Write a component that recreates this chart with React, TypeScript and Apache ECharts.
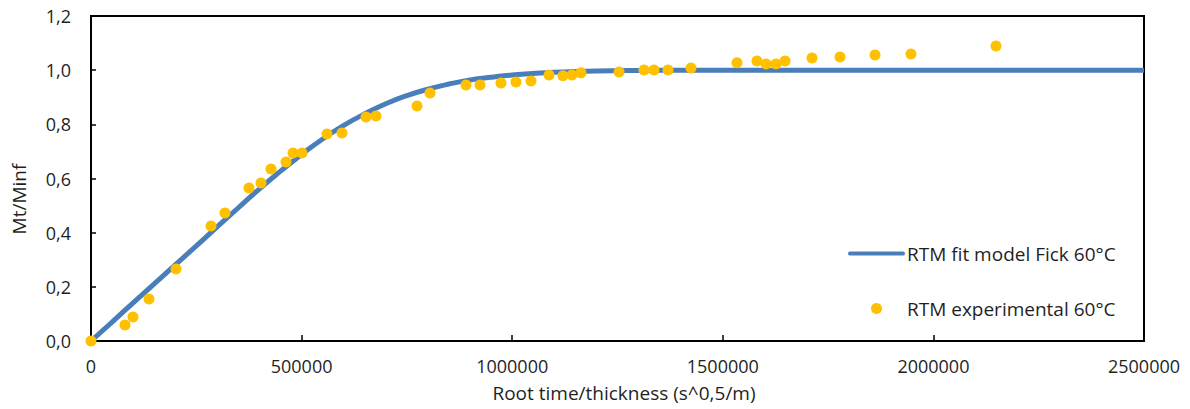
import React, { useEffect, useRef } from "react";
import * as echarts from "echarts";

// Experimental points (x: root time / thickness, y: Mt/Minf)
const expX = [0, 80700, 99700, 137700, 201800, 284900, 318100, 375100, 403600, 427400, 463000, 479600, 500900, 560300, 595900, 652900, 676600, 774000, 804900, 890300, 923600, 973400, 1009000, 1044600, 1087400, 1120600, 1142000, 1163300, 1253600, 1312900, 1336700, 1369900, 1424500, 1533700, 1581200, 1602600, 1626300, 1647700, 1711800, 1778300, 1861400, 1946800, 2148600];
const expY = [0, 0.059, 0.089, 0.155, 0.266, 0.425, 0.473, 0.565, 0.583, 0.635, 0.661, 0.694, 0.694, 0.764, 0.768, 0.827, 0.831, 0.868, 0.916, 0.945, 0.945, 0.953, 0.956, 0.96, 0.982, 0.979, 0.982, 0.99, 0.993, 1.001, 1.001, 1.001, 1.008, 1.027, 1.034, 1.023, 1.023, 1.034, 1.045, 1.049, 1.056, 1.06, 1.089];

// Fitted model curve
const fitX = [0, 50000, 100000, 150000, 200000, 250000, 300000, 350000, 400000, 450000, 500000, 550000, 600000, 650000, 700000, 750000, 800000, 850000, 900000, 950000, 1000000, 1100000, 1200000, 1300000, 1400000, 1500000, 1600000, 1800000, 2000000, 2200000, 2500000];
const fitY = [0, 0.07, 0.141, 0.211, 0.281, 0.351, 0.422, 0.492, 0.562, 0.627, 0.689, 0.746, 0.796, 0.839, 0.876, 0.906, 0.93, 0.949, 0.964, 0.974, 0.982, 0.992, 0.997, 0.999, 0.9995, 1.0, 1.0, 1.0, 1.0, 1.0, 1.0];

const fitName = "RTM fit model Fick 60°C";
const expName = "RTM experimental 60°C";
const xTitle = "Root time/thickness (s^0,5/m)";
const yTitle = "Mt/Minf";

const FONT = "'Open Sans', 'Noto Sans', sans-serif";
const TXT = "#1f1f1f";
const BLUE = "#4A7EBB";

export default function App() {
  const ref = useRef<HTMLDivElement>(null);
  useEffect(() => {
    document.body.style.margin = "0";
    if (!ref.current) return;
    const chart = echarts.init(ref.current, undefined, { renderer: "svg" });
    chart.setOption({
      animation: false,
      backgroundColor: "#ffffff",
      textStyle: { fontFamily: FONT, color: TXT },
      grid: {
        left: 91, right: 46, top: 16, bottom: 68,
        show: true, borderColor: "#000", borderWidth: 2, backgroundColor: "transparent",
      },
      xAxis: {
        type: "value", min: 0, max: 2500000, interval: 500000,
        axisLine: { show: true, onZero: false, lineStyle: { color: "#000", width: 2 } },
        axisTick: { show: true, inside: true, length: 6, lineStyle: { color: "#000", width: 1.5 } },
        axisLabel: { color: TXT, fontSize: 18, fontFamily: FONT, margin: 16, formatter: (v: number) => String(v) },
        splitLine: { show: false },
      },
      yAxis: {
        type: "value", min: 0, max: 1.2, interval: 0.2,
        axisLine: { show: true, lineStyle: { color: "#000", width: 2 } },
        axisTick: { show: true, inside: true, length: 5, lineStyle: { color: "#000", width: 1.5 } },
        axisLabel: { color: TXT, fontSize: 18, fontFamily: FONT, margin: 20, formatter: (v: number) => v.toFixed(1).replace(".", ",") },
        splitLine: { show: false },
      },
      legend: {
        orient: "vertical", left: 843, top: 239, itemWidth: 57, itemHeight: 11, itemGap: 36,
        textStyle: { fontSize: 19, fontFamily: FONT, color: TXT, padding: [0, 0, 0, -3] },
        data: [
          { name: fitName, icon: "path://M2,0H55A2,2 0 0 1 55,4H2A2,2 0 0 1 2,0Z", itemStyle: { color: BLUE } },
          { name: expName, icon: "circle" },
        ],
      },
      graphic: [
        { type: "text", x: 19, y: 199, rotation: Math.PI / 2, style: { text: yTitle, fontSize: 19, fontFamily: FONT, fill: TXT, align: "center", verticalAlign: "middle" } },
        { type: "text", x: 624, y: 393, style: { text: xTitle, fontSize: 19, fontFamily: FONT, fill: TXT, align: "center", verticalAlign: "middle" } },
      ],
      series: [
        {
          name: fitName, type: "line", data: fitX.map((x, i) => [x, fitY[i]]),
          smooth: true, showSymbol: false, symbol: "none", clip: false,
          lineStyle: { color: BLUE, width: 5 }, itemStyle: { color: BLUE }, z: 2,
        },
        {
          name: expName, type: "scatter", data: expX.map((x, i) => [x, expY[i]]),
          symbol: "circle", symbolSize: 11, clip: false,
          itemStyle: { color: "#FFC000", opacity: 1 }, z: 3,
        },
      ],
    });
    return () => chart.dispose();
  }, []);
  return <div ref={ref} style={{ width: 1190, height: 409 }} />;
}
